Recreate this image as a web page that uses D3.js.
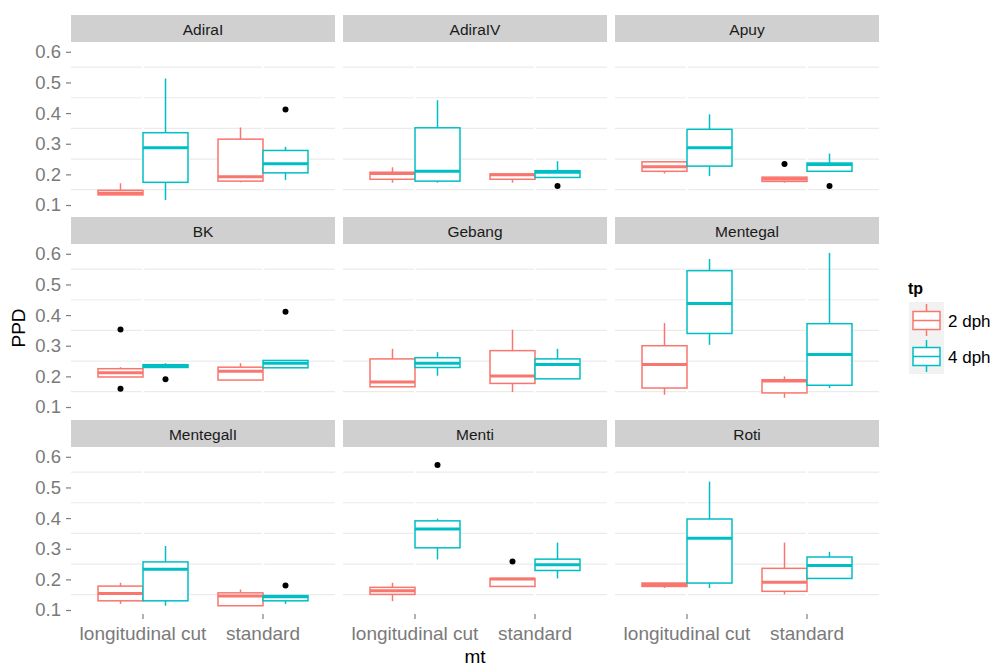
<!DOCTYPE html>
<html>
<head>
<meta charset="utf-8">
<script src="https://cdn.jsdelivr.net/npm/d3@7"></script>
<style>
  html, body { margin: 0; padding: 0; background: #fff; }
  svg { display: block; font-family: "Liberation Sans", Arial, sans-serif; }
</style>
</head>
<body>
<svg id="chart" width="993" height="666"></svg>
<script>
// Facets (sites), x categories (method) and fill groups (stage)
const facets = ["AdiraI", "AdiraIV", "Apuy", "BK", "Gebang", "Mentegal", "MentegalI", "Menti", "Roti"];
const methods = ["longitudinal cut", "standard"];
const stages = ["2 dph", "4 dph"];
const stageColors = ["#F8766D", "#00BFC4"];
const yTicks = [0.1, 0.2, 0.3, 0.4, 0.5, 0.6];
const yMinor = [0.15, 0.25, 0.35, 0.45, 0.55];

// Box statistics per facet and method: [lower whisker, Q1, median, Q3, upper whisker]
const box2dph = [
  [0.133, 0.133, 0.138, 0.148, 0.171], [0.174, 0.178, 0.192, 0.315, 0.353], // AdiraI
  [0.173, 0.184, 0.203, 0.207, 0.223], [0.173, 0.184, 0.199, 0.201, 0.201], // AdiraIV
  [0.203, 0.210, 0.225, 0.241, 0.241], [0.173, 0.177, 0.185, 0.191, 0.191], // Apuy
  [0.198, 0.198, 0.212, 0.225, 0.230], [0.188, 0.188, 0.217, 0.230, 0.243], // BK
  [0.166, 0.166, 0.182, 0.257, 0.290], [0.149, 0.177, 0.201, 0.284, 0.352], // Gebang
  [0.140, 0.162, 0.239, 0.300, 0.374], [0.130, 0.146, 0.185, 0.189, 0.200], // Mentegal
  [0.120, 0.130, 0.154, 0.178, 0.189], [0.114, 0.114, 0.146, 0.156, 0.167], // MentegalI
  [0.129, 0.151, 0.163, 0.174, 0.189], [0.177, 0.177, 0.201, 0.203, 0.203], // Menti
  [0.172, 0.177, 0.183, 0.188, 0.188], [0.151, 0.161, 0.191, 0.236, 0.320]  // Roti
];
const box4dph = [
  [0.116, 0.174, 0.287, 0.336, 0.513], [0.182, 0.205, 0.235, 0.278, 0.290], // AdiraI
  [0.173, 0.178, 0.210, 0.352, 0.442], [0.190, 0.190, 0.207, 0.212, 0.243], // AdiraIV
  [0.195, 0.227, 0.287, 0.347, 0.396], [0.210, 0.210, 0.232, 0.237, 0.268], // Apuy
  [0.229, 0.229, 0.233, 0.238, 0.243], [0.228, 0.228, 0.243, 0.252, 0.252], // BK
  [0.202, 0.229, 0.243, 0.261, 0.279], [0.192, 0.192, 0.239, 0.257, 0.290], // Gebang
  [0.303, 0.340, 0.438, 0.545, 0.583], [0.162, 0.171, 0.271, 0.372, 0.603], // Mentegal
  [0.114, 0.130, 0.233, 0.257, 0.309], [0.120, 0.130, 0.143, 0.147, 0.147], // MentegalI
  [0.265, 0.303, 0.364, 0.391, 0.398], [0.203, 0.229, 0.248, 0.266, 0.320], // Menti
  [0.172, 0.188, 0.334, 0.397, 0.519], [0.203, 0.203, 0.245, 0.273, 0.290]  // Roti
];

// Outlying points: [facet, method, stage, value]
const outliers = [
  ["AdiraI", "standard", "4 dph", 0.412],
  ["AdiraIV", "standard", "4 dph", 0.162],
  ["Apuy", "standard", "2 dph", 0.234],
  ["Apuy", "standard", "4 dph", 0.162],
  ["BK", "longitudinal cut", "2 dph", 0.353],
  ["BK", "longitudinal cut", "2 dph", 0.160],
  ["BK", "longitudinal cut", "4 dph", 0.191],
  ["BK", "standard", "4 dph", 0.411],
  ["MentegalI", "standard", "4 dph", 0.180],
  ["Menti", "longitudinal cut", "4 dph", 0.573],
  ["Menti", "standard", "2 dph", 0.258]
];

const boxStats = [box2dph, box4dph];

const svg = d3.select("#chart");
const panelW = 264, panelH = 167, stripH = 27;
const colX = [71, 343, 615];
const rowY = [42, 244, 447];

const y = d3.scaleLinear().domain([0.087, 0.632]).range([panelH, 0]);
// Discrete x with 0.6 units of expansion on each side of the two categories
const xCenter = d3.scalePoint().domain(methods).range([0.6 / 2.2 * panelW, 1.6 / 2.2 * panelW]);
const unit = panelW / 2.2;
const dodge = d3.scaleBand().domain(stages).range([-0.375 * unit, 0.375 * unit]);

facets.forEach((f, fi) => {
  const col = fi % 3, row = Math.floor(fi / 3);
  const g = svg.append("g").attr("transform", `translate(${colX[col]},${rowY[row]})`);

  // strip
  g.append("rect").attr("x", 0).attr("y", -stripH).attr("width", panelW).attr("height", stripH)
    .attr("fill", "#d0d0d0");
  g.append("text").attr("x", panelW / 2).attr("y", -7).attr("text-anchor", "middle")
    .attr("font-size", 15.5).attr("fill", "#1a1a1a").text(f);

  // grid: light minor lines, white major lines
  g.selectAll(".minor").data(yMinor).join("line")
    .attr("x1", 0).attr("x2", panelW).attr("y1", d => y(d)).attr("y2", d => y(d))
    .attr("stroke", "#ebebeb").attr("stroke-width", 1.2);
  g.selectAll(".vmaj").data(methods).join("line")
    .attr("x1", d => xCenter(d)).attr("x2", d => xCenter(d)).attr("y1", 0).attr("y2", panelH)
    .attr("stroke", "#ffffff").attr("stroke-width", 2.5);

  // y axis on the first column
  if (col === 0) {
    const ax = g.append("g").call(d3.axisLeft(y).tickValues(yTicks).tickSize(5).tickPadding(5).tickFormat(d3.format(".1f")));
    ax.select(".domain").remove();
    ax.selectAll("line").attr("stroke", "#7f7f7f").attr("stroke-width", 1.2);
    ax.selectAll("text").attr("font-size", 18.5).attr("fill", "#7a7a7a")
      .attr("font-family", "Liberation Sans, Arial, sans-serif");
  }
  // x axis on the bottom row
  if (row === 2) {
    const ax = g.append("g").attr("transform", `translate(0,${panelH})`);
    ax.selectAll("line").data(methods).join("line")
      .attr("x1", d => xCenter(d)).attr("x2", d => xCenter(d)).attr("y1", 0).attr("y2", 5)
      .attr("stroke", "#7f7f7f").attr("stroke-width", 1.2);
    ax.selectAll("text").data(methods).join("text")
      .attr("x", d => xCenter(d)).attr("y", 26).attr("text-anchor", "middle")
      .attr("font-size", 19).attr("fill", "#7a7a7a").text(d => d);
  }

  // boxes
  methods.forEach((m, mi) => {
    stages.forEach((s, si) => {
      const [lo, q1, med, q3, hi] = boxStats[si][fi * 2 + mi];
      const cx = xCenter(m) + dodge(s) + dodge.bandwidth() / 2;
      const w = dodge.bandwidth();
      const color = stageColors[si];
      const bg = g.append("g");
      bg.append("line").attr("x1", cx).attr("x2", cx).attr("y1", y(hi)).attr("y2", y(q3))
        .attr("stroke", color).attr("stroke-width", 1.5);
      bg.append("line").attr("x1", cx).attr("x2", cx).attr("y1", y(q1)).attr("y2", y(lo))
        .attr("stroke", color).attr("stroke-width", 1.5);
      bg.append("rect").attr("x", cx - w / 2).attr("y", y(q3)).attr("width", w)
        .attr("height", Math.max(0, y(q1) - y(q3)))
        .attr("fill", "#fff").attr("stroke", color).attr("stroke-width", 1.5);
      bg.append("line").attr("x1", cx - w / 2).attr("x2", cx + w / 2).attr("y1", y(med)).attr("y2", y(med))
        .attr("stroke", color).attr("stroke-width", 3);
    });
  });

  // outliers
  g.selectAll(".out").data(outliers.filter(o => o[0] === f)).join("circle")
    .attr("cx", d => xCenter(d[1]) + dodge(d[2]) + dodge.bandwidth() / 2)
    .attr("cy", d => y(d[3])).attr("r", 3).attr("fill", "#000");
});

// axis titles
svg.append("text").attr("x", 475).attr("y", 663).attr("text-anchor", "middle")
  .attr("font-size", 19).attr("fill", "#000").text("mt");
svg.append("text").attr("transform", "translate(25,328) rotate(-90)").attr("text-anchor", "middle")
  .attr("font-size", 19).attr("fill", "#000").text("PPD");

// legend
const leg = svg.append("g").attr("transform", "translate(906,0)");
leg.append("text").attr("x", 2).attr("y", 294).attr("font-size", 16).attr("font-weight", "bold")
  .attr("fill", "#000").text("tp");
const keyTop = [302, 338];
stages.forEach((s, si) => {
  const k = leg.append("g").attr("transform", `translate(3,${keyTop[si]})`);
  k.append("rect").attr("x", 0).attr("y", 0).attr("width", 35).attr("height", 36).attr("fill", "#f2f2f2");
  const c = stageColors[si];
  k.append("line").attr("x1", 17.5).attr("x2", 17.5).attr("y1", 2).attr("y2", 34).attr("stroke", c).attr("stroke-width", 1.5);
  k.append("rect").attr("x", 4).attr("y", 9.5).attr("width", 27).attr("height", 18)
    .attr("fill", "#fff").attr("stroke", c).attr("stroke-width", 1.5);
  k.append("line").attr("x1", 4).attr("x2", 31).attr("y1", 18.5).attr("y2", 18.5).attr("stroke", c).attr("stroke-width", 1.5);
  k.append("text").attr("x", 39).attr("y", 24.5).attr("font-size", 17).attr("fill", "#000").text(s);
});
</script>
</body>
</html>
